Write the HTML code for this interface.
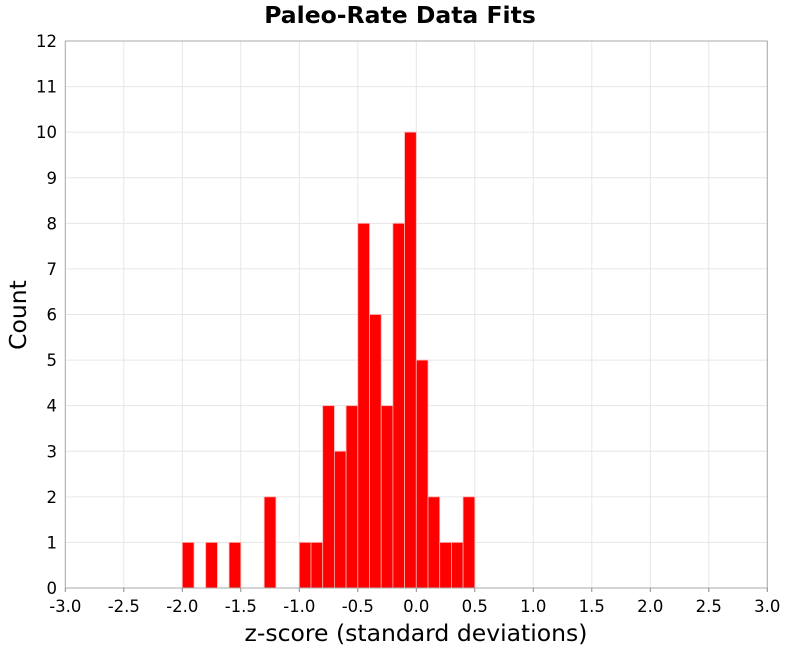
<!DOCTYPE html>
<html><head><meta charset="utf-8"><style>
body{margin:0;background:#fff;font-family:"DejaVu Sans","Liberation Sans",sans-serif;}
svg text{font-family:"DejaVu Sans","Liberation Sans",sans-serif;}
</style></head><body>
<svg id="chart" width="800" height="650">
<text x="400" y="23" text-anchor="middle" font-size="23.5" font-weight="bold">Paleo-Rate Data Fits</text>
<g id="grid"></g>
<g id="bars"></g>
<rect x="65.3" y="41" width="702" height="547" fill="none" stroke="#aaa" stroke-width="1"/>
<g id="axes"></g>
<text x="416" y="641" text-anchor="middle" font-size="23.5">z-score (standard deviations)</text>
<text transform="translate(26,315) rotate(-90)" text-anchor="middle" font-size="23.5">Count</text>
</svg>
<script>
const binStarts = [-2.0,-1.8,-1.6,-1.3,-1.0,-0.9,-0.8,-0.7,-0.6,-0.5,-0.4,-0.3,-0.2,-0.1,0.0,0.1,0.2,0.3,0.4];
const counts =    [1,1,1,2,1,1,4,3,4,8,6,4,8,10,5,2,1,1,2];
const binWidth = 0.1;
const xTicks = [-3.0,-2.5,-2.0,-1.5,-1.0,-0.5,0.0,0.5,1.0,1.5,2.0,2.5,3.0];
const yTicks = [0,1,2,3,4,5,6,7,8,9,10,11,12];
const NS="http://www.w3.org/2000/svg";
const X0=65.3,X1=767.3,Y0=588,Y1=41;
const xs=v=>X0+(v+3)/6*(X1-X0);
const ys=v=>Y0-v/12*(Y0-Y1);
const grid=document.getElementById('grid'),bars=document.getElementById('bars'),axes=document.getElementById('axes');
function mk(t,a,p){const e=document.createElementNS(NS,t);for(const k in a)e.setAttribute(k,a[k]);p.appendChild(e);return e;}
xTicks.forEach(v=>{
  const g=mk('line',{x1:xs(v),x2:xs(v),y1:Y1,y2:Y0,stroke:'#e6e6e6'},grid);
  
  
  const tk=mk('line',{x1:xs(v),x2:xs(v),y1:Y0,y2:Y0+4,stroke:'#888'},axes);
  
  
  const t=mk('text',{x:xs(v),y:612,'text-anchor':'middle','font-size':16.5},axes);
  t.textContent=v.toFixed(1);
  
  
});
yTicks.forEach(v=>{
  const g=mk('line',{x1:X0,x2:X1,y1:ys(v),y2:ys(v),stroke:'#e6e6e6'},grid);
  
  
  const t=mk('text',{x:57,y:ys(v)+6,'text-anchor':'end','font-size':16.5},axes);
  t.textContent=v;
  
  
});
binStarts.forEach((b,i)=>{
  const x=xs(b),w=xs(b+binWidth)-x;
  const r=mk('rect',{x:x,y:ys(counts[i]),width:w,height:Y0-ys(counts[i]),fill:'#ff0000',stroke:'#ffb0b0','stroke-width':0.8},bars);
  
  
});
</script>
</body></html>
